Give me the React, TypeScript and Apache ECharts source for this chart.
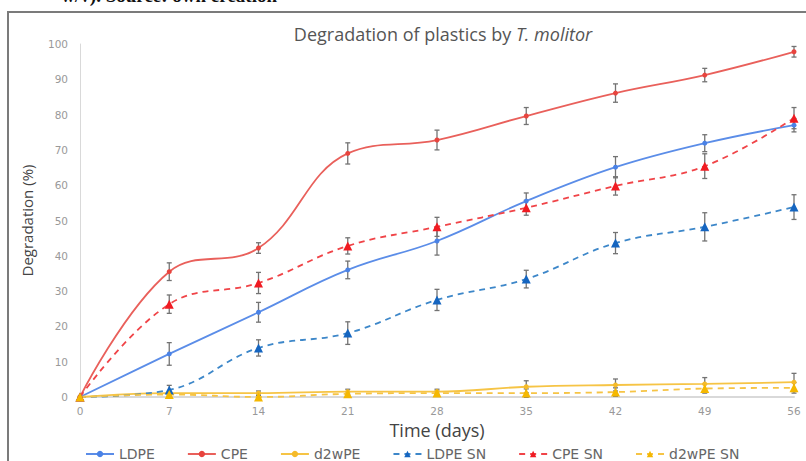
import React, { useEffect, useRef } from "react";
import * as echarts from "echarts";

const days = [0, 7, 14, 21, 28, 35, 42, 49, 56];
const xTicks = days;

const ldpe = [0, 12.2, 24, 36, 44.2, 55.5, 65.1, 71.9, 77];
const ldpeErr = [0, 3.2, 2.8, 2.5, 4, 2.3, 3, 2.4, 1.9];
const cpe = [0, 35.5, 42.2, 69, 72.8, 79.6, 86.1, 91.2, 97.8];
const cpeErr = [0, 2.5, 1.5, 3, 2.8, 2.4, 2.6, 1.9, 1.5];
const d2wpe = [0, 1.1, 1.1, 1.5, 1.5, 2.9, 3.4, 3.7, 4.2];
const d2wpeErr = [0, 0.5, 0.6, 0.7, 0.7, 1.7, 1.7, 1.8, 2.5];
const ldpeSn = [0, 2, 13.9, 18.1, 27.5, 33.4, 43.6, 48.2, 53.8];
const ldpeSnErr = [0, 1.3, 2.3, 3.2, 3, 2.5, 3, 4, 3.5];
const cpeSn = [0, 26.3, 32.3, 42.8, 48.2, 53.6, 59.8, 65.4, 79];
const cpeSnErr = [0, 2.6, 3, 2.3, 2.7, 2.1, 2.6, 3.5, 3];
const d2wpeSn = [0, 0.7, 0, 0.9, 1.1, 1.1, 1.4, 2.4, 2.6];
const d2wpeSnErr = [0, 0.5, 0.5, 0.6, 0.6, 1.2, 1.2, 1.3, 1.5];

const seriesNames = ["LDPE", "CPE", "d2wPE", "LDPE SN", "CPE SN", "d2wPE SN"];

export default function App() {
  const ref = useRef<HTMLDivElement>(null);
  useEffect(() => {
    document.body.style.margin = "0";
    const chart = echarts.init(ref.current!, null, { renderer: "svg" });

    const defs = [
      { name: "LDPE", values: ldpe, err: ldpeErr, color: "#5b8de8", mcolor: "#4a82e6", dashed: false, symbol: "circle", size: 5 },
      { name: "CPE", values: cpe, err: cpeErr, color: "#e9605b", mcolor: "#e8443e", dashed: false, symbol: "circle", size: 5 },
      { name: "d2wPE", values: d2wpe, err: d2wpeErr, color: "#f6c445", mcolor: "#f5bb2a", dashed: false, symbol: "circle", size: 5 },
      { name: "LDPE SN", values: ldpeSn, err: ldpeSnErr, color: "#3d87c9", mcolor: "#1565c0", dashed: true, symbol: "triangle", size: 9 },
      { name: "CPE SN", values: cpeSn, err: cpeSnErr, color: "#f04448", mcolor: "#f01b22", dashed: true, symbol: "triangle", size: 9 },
      { name: "d2wPE SN", values: d2wpeSn, err: d2wpeSnErr, color: "#f6c445", mcolor: "#f5b800", dashed: true, symbol: "triangle", size: 9 },
    ];

    const errData: number[][] = [];
    defs.forEach((d) => {
      d.values.forEach((v, i) => {
        if (d.err[i] > 0) errData.push([days[i], v - d.err[i], v + d.err[i]]);
      });
    });

    const lineSeries = defs.map((d) => ({
      name: d.name,
      type: "line",
      smooth: 0.4,
      data: d.values.map((v, i) => [days[i], v]),
      symbol: d.symbol,
      symbolSize: d.size,
      showSymbol: true,
      z: 3,
      lineStyle: { color: d.color, width: 1.8, type: d.dashed ? [6, 5] : "solid" },
      itemStyle: { color: d.mcolor, borderWidth: 0 },
    }));

    const errSeries = {
      type: "custom",
      name: "err",
      z: 2,
      data: errData,
      renderItem: (params: any, api: any) => {
        const x = api.value(0);
        const lo = api.coord([x, api.value(1)]);
        const hi = api.coord([x, api.value(2)]);
        const w = 2.5;
        const st = { stroke: "#737373", lineWidth: 1.3 };
        return {
          type: "group",
          children: [
            { type: "line", shape: { x1: lo[0], y1: lo[1], x2: hi[0], y2: hi[1] }, style: st },
            { type: "line", shape: { x1: lo[0] - w, y1: lo[1], x2: lo[0] + w, y2: lo[1] }, style: st },
            { type: "line", shape: { x1: hi[0] - w, y1: hi[1], x2: hi[0] + w, y2: hi[1] }, style: st },
          ],
        };
      },
    };

    chart.setOption({
      animation: false,
      backgroundColor: "#ffffff",
      title: {
        text: "{a|Degradation of plastics by }{b|T. molitor}",
        left: 438,
        top: 20,
        textAlign: "center",
        textStyle: {
          fontWeight: "normal",
          rich: {
            a: { fontFamily: "Open Sans", fontSize: 18, fontWeight: "normal", color: "#555555" },
            b: { fontFamily: "Open Sans", fontSize: 18, fontWeight: "normal", color: "#555555", fontStyle: "italic" },
          },
        },
      },
      graphic: [
        {
          type: "polyline",
          shape: { points: [[8, 461], [8, 12], [806, 12]] },
          style: { stroke: "#7b7b7b", lineWidth: 2, fill: "none" },
          silent: true,
        },
        {
          type: "text",
          x: 277,
          y: 5,
          style: {
            text: "w/v). Source: own creation",
            font: "bold 19px 'Liberation Serif'",
            fill: "#111111",
            textAlign: "right",
            textVerticalAlign: "bottom",
          },
          silent: true,
        },
      ],
      legend: {
        data: seriesNames,
        left: 80,
        top: 442,
        itemWidth: 28,
        itemHeight: 8,
        itemGap: 32,
        textStyle: { fontFamily: "DejaVu Sans", fontSize: 14, color: "#666666" },
      },
      grid: { left: 80, right: 12, top: 44, bottom: 64, containLabel: false },
      xAxis: {
        type: "value",
        min: 0,
        max: 56,
        interval: 7,
        name: "Time (days)",
        nameLocation: "middle",
        nameGap: 24,
        nameTextStyle: { fontFamily: "Open Sans", fontSize: 18, color: "#444444" },
        axisLine: { show: true, lineStyle: { color: "#d9d9d9", width: 2 } },
        axisTick: { show: false },
        splitLine: { show: false },
        axisLabel: {
          fontFamily: "DejaVu Sans",
          fontSize: 10.5,
          color: "#999999",
          margin: 8,
          formatter: (v: number) => (xTicks.includes(v) ? String(v) : ""),
        },
      },
      yAxis: {
        type: "value",
        min: 0,
        max: 100,
        interval: 10,
        name: "Degradation (%)",
        nameLocation: "middle",
        nameGap: 46,
        nameTextStyle: { fontFamily: "Open Sans", fontSize: 15, color: "#444444" },
        axisLine: { show: true, lineStyle: { color: "#d9d9d9", width: 1 } },
        axisTick: { show: false },
        splitLine: { show: false },
        axisLabel: { fontFamily: "DejaVu Sans", fontSize: 10.5, color: "#999999", margin: 12 },
      },
      series: [errSeries, ...lineSeries],
    });
    return () => chart.dispose();
  }, []);
  return <div ref={ref} style={{ width: 806, height: 461 }} />;
}
